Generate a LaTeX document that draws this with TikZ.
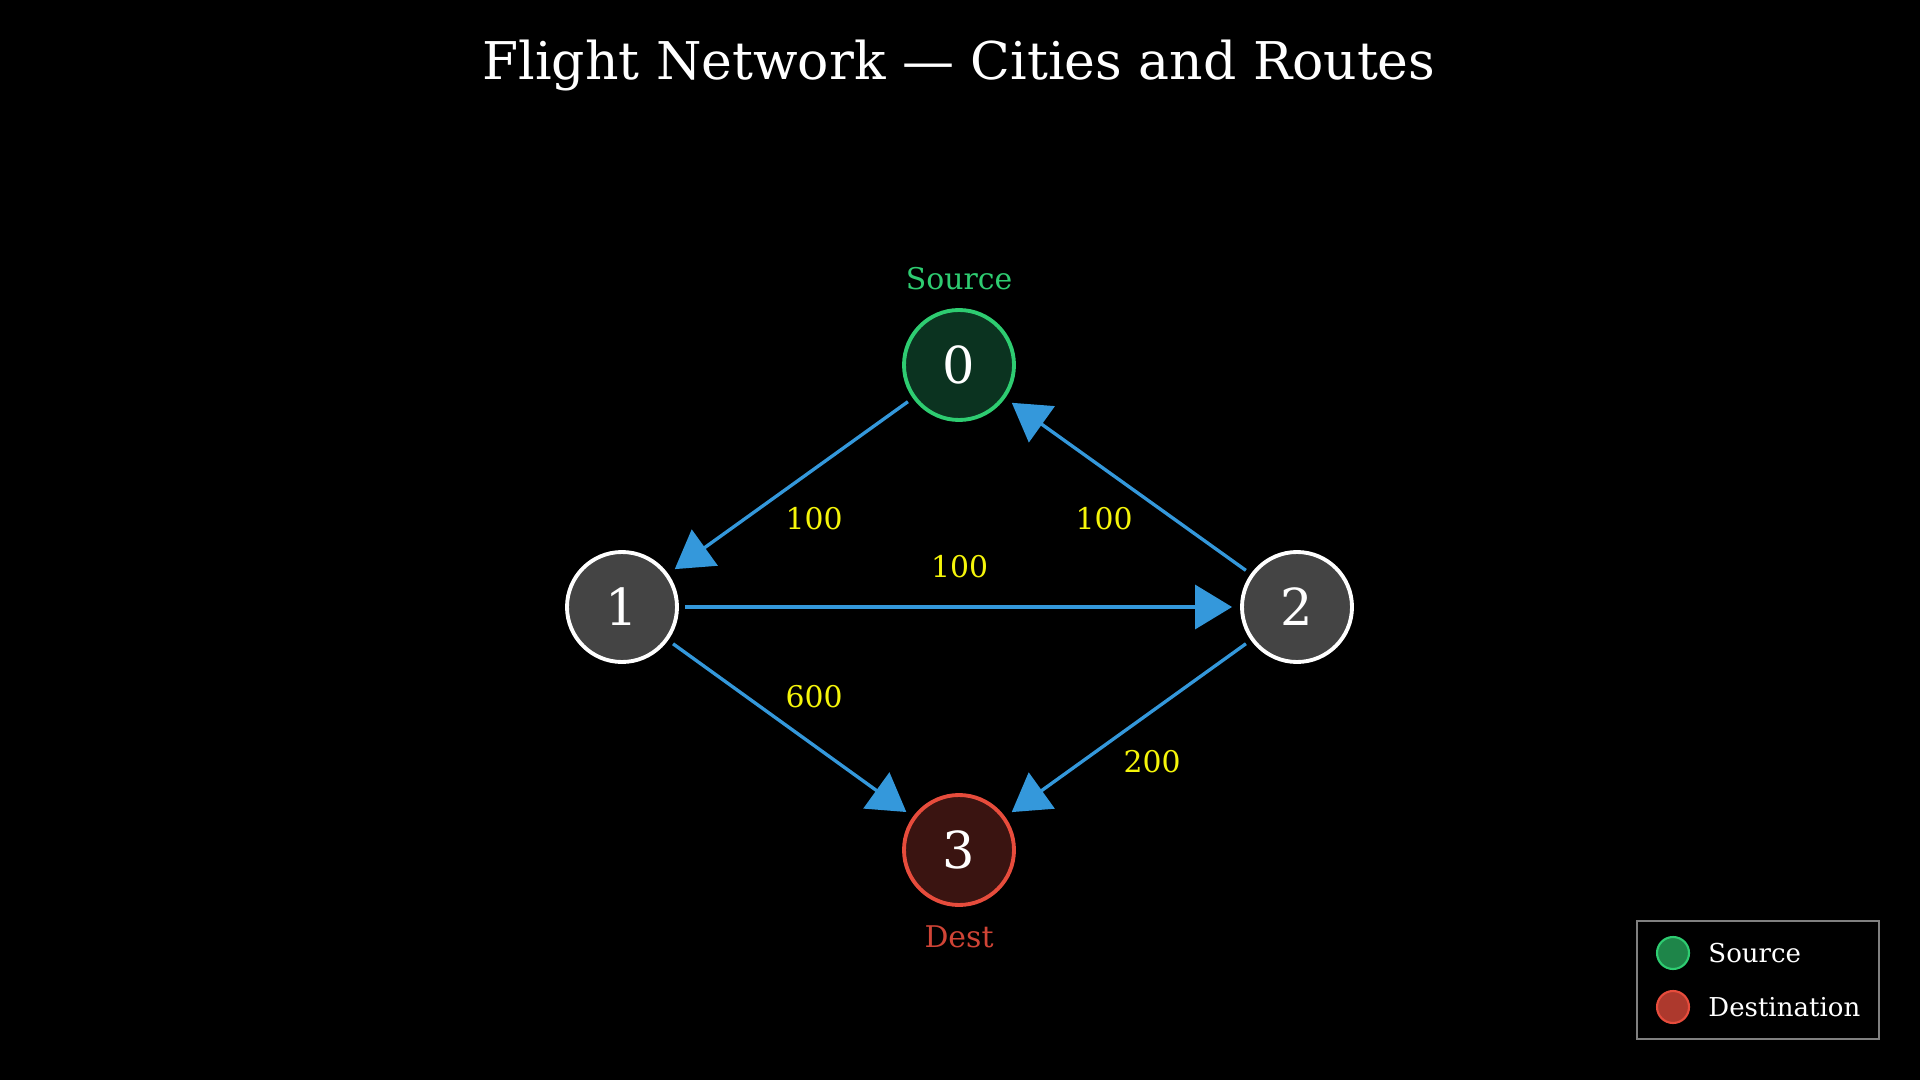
\documentclass[tikz,border=0pt]{standalone}
\usepackage{fontspec}
\setmainfont{DejaVu Serif}
\usetikzlibrary{arrows.meta}
\definecolor{edgeblue}{HTML}{3498DB}
\definecolor{srcgreen}{HTML}{2ECC71}
\definecolor{srcfill}{HTML}{0B3320}
\definecolor{dstred}{HTML}{E74C3C}
\definecolor{dstfill}{HTML}{3A1411}
\definecolor{cityfill}{HTML}{444444}
\definecolor{wtyellow}{HTML}{F5F50A}
\begin{document}
\begin{tikzpicture}[
    city/.style={circle,draw=white,line width=1.1pt,fill=cityfill,minimum size=1.1cm,inner sep=0pt,text=white,font=\fontsize{14.5}{16}\selectfont},
    route/.style={draw=edgeblue,line width=0.95pt,-{Triangle[length=0.37cm,width=0.44cm]},shorten <=0.06cm,shorten >=0.08cm},
    weight/.style={text=wtyellow,font=\fontsize{8.5}{10}\selectfont,inner sep=1pt}]
  \fill[black] (0,0) rectangle (19.2,-10.8);
  \useasboundingbox (0,0) rectangle (19.2,-10.8);
  % Title
  \node[text=white,font=\fontsize{14.8}{17}\selectfont] (title) at (9.59,-0.66) {Flight Network — Cities and Routes};
  % Cities
  \node[city,draw=srcgreen,fill=srcfill] (0) at (9.59,-3.65) {0};
  \node[city] (1) at (6.22,-6.07) {1};
  \node[city] (2) at (12.97,-6.07) {2};
  \node[city,draw=dstred,fill=dstfill] (3) at (9.59,-8.50) {3};
  \node[text=srcgreen,font=\fontsize{8.5}{10}\selectfont] (srclab) at (9.59,-2.79) {Source};
  \node[text=dstred!90!black,font=\fontsize{8.5}{10}\selectfont] (dstlab) at (9.59,-9.37) {Dest};
  % Routes
  \draw[route] (0) -- node[weight,midway,xshift=0.235cm,yshift=-0.33cm] (w01) {100} (1);
  \draw[route] (2) -- node[weight,midway,xshift=-0.24cm,yshift=-0.33cm] (w20) {100} (0);
  \draw[route] (1) -- node[weight,midway,yshift=0.40cm] (w12) {100} (2);
  \draw[route] (1) -- node[weight,midway,xshift=0.235cm,yshift=0.315cm] (w13) {600} (3);
  \draw[route] (2) -- node[weight,midway,xshift=0.24cm,yshift=-0.335cm] (w23) {200} (3);
  % Legend
  \draw[gray,line width=0.5pt] (16.37,-9.21) rectangle (18.79,-10.39);
  \draw[srcgreen,fill=srcgreen!65!black,line width=0.6pt] (16.73,-9.53) circle (0.16);
  \draw[dstred,fill=dstred!75!black,line width=0.6pt] (16.73,-10.07) circle (0.16);
  \node[anchor=west,text=white,font=\fontsize{7.4}{9}\selectfont] (legsrc) at (16.96,-9.53) {Source};
  \node[anchor=west,text=white,font=\fontsize{7.4}{9}\selectfont] (legdst) at (16.96,-10.07) {Destination};
\end{tikzpicture}
\end{document}
